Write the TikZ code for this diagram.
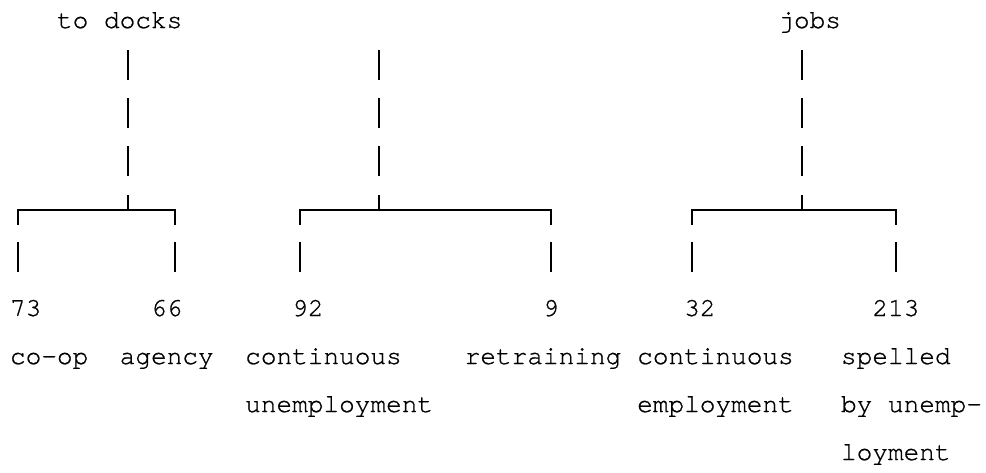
\documentclass[tikz,border=0pt]{standalone}
\usepackage{fontspec}
\newfontfamily\monofnt[FakeBold=0.9]{TeX Gyre Cursor}
\begin{document}
\begin{tikzpicture}[x=15.68pt,y=-1pt,
  lbl/.style={anchor=base west,inner sep=0pt,outer sep=0pt,font=\monofnt\fontsize{26.1pt}{30pt}\selectfont},
  ln/.style={line width=1.9pt,line cap=butt,line join=miter}]
\useasboundingbox[fill=white] (0pt,0pt) rectangle (986pt,-472pt);
\begin{scope}[xshift=10pt]
% top labels
\node[lbl] (docks) at (3,28) {to docks};
\node[lbl] (jobs) at (49,28) {jobs};
% top dashed stems
\foreach \c/\dx in {7/0pt,23/0.5pt,50/0pt}{
  \begin{scope}[xshift=\dx]
  \foreach \b in {76,124,172}{
    \draw[ln] (\c+0.5,\b-26) -- (\c+0.5,\b+4);
  }
  \draw[ln] (\c+0.5,195) -- (\c+0.5,210);
  \end{scope}
}
% brackets
\coordinate (b1l) at (0.5,210);  \coordinate (b1r) at (10.5,210);
\coordinate (b2l) at (18.5,210); \coordinate (b2r) at (34.5,210);
\coordinate (b3l) at (43.5,210); \coordinate (b3r) at (56.5,210);
\draw[ln] ([yshift=-15pt]b1l) -- (b1l) -- (b1r) -- ([yshift=-15pt]b1r);
\draw[ln] ([yshift=-15pt]b2l) -- (b2l) -- (b2r) -- ([yshift=-15pt]b2r);
\draw[ln] ([yshift=-15pt]b3l) -- (b3l) -- (b3r) -- ([yshift=-15pt]b3r);
% leaf bars
\foreach \c in {0,10,18,34,43,56}{
  \draw[ln] (\c+0.5,242) -- (\c+0.5,272);
}
% numbers
\node[lbl] (n73) at (0,316) {73};
\node[lbl] (n66) at (9,316) {66};
\node[lbl] (n92) at (18,316) {92};
\node[lbl] (n9) at (34,316) {9};
\node[lbl] (n32) at (43,316) {32};
\node[lbl] (n213) at (55,316) {213};
% descriptions
\node[lbl] (coop) at (0,364) {co-op};
\node[lbl] (agency) at (7,364) {agency};
\node[lbl] (cu1) at (15,364) {continuous};
\node[lbl] (cu2) at (15,412) {unemployment};
\node[lbl] (retr) at (29,364) {retraining};
\node[lbl] (ce1) at (40,364) {continuous};
\node[lbl] (ce2) at (40,412) {employment};
\node[lbl] (sp1) at (53,364) {spelled};
\node[lbl] (sp2) at (53,412) {by unemp-};
\node[lbl] (sp3) at (53,460) {loyment};
\end{scope}
\end{tikzpicture}
\end{document}
